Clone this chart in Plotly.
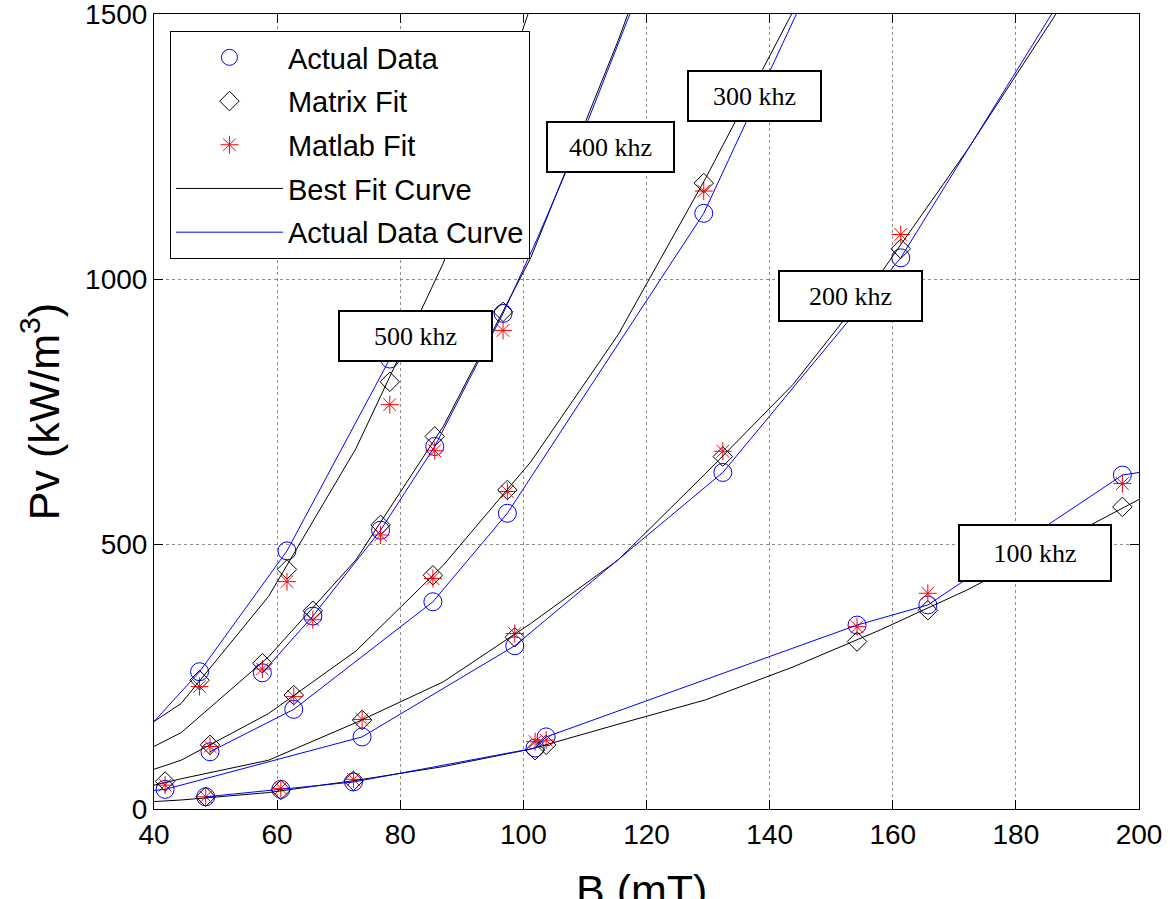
import plotly.graph_objects as go

# ---------------- data ----------------
# measured points for each frequency: B (mT), actual data, matrix fit, matlab fit (kW/m^3)
B100 = [48.4, 60.6, 72.4, 101.9, 103.7, 154.2, 165.7, 197.3]
act100 = [23, 37, 51, 115, 136, 347, 385, 630]
mat100 = [23, 36, 53, 111, 121, 316, 375, 570]
mlb100 = [23, 39, 56, 127, 130, 344, 407, 614]

B200 = [41.8, 73.8, 98.6, 132.4, 161.3]
act200 = [37, 136, 308, 635, 1040]
mat200 = [52, 168, 324, 665, 1057]
mlb200 = [45, 169, 331, 675, 1084]

B300 = [49.1, 62.7, 85.3, 97.4, 129.3]
act300 = [108, 188, 391, 558, 1124]
mat300 = [121, 215, 441, 602, 1181]
mlb300 = [118, 212, 435, 599, 1166]

B400 = [57.6, 65.8, 76.8, 85.6, 96.7]
act400 = [257, 364, 526, 684, 935]
mat400 = [275, 374, 536, 703, 938]
mlb400 = [264, 357, 517, 676, 903]

B500 = [47.4, 61.6, 78.3]
act500 = [259, 487, 849]
mat500 = [243, 452, 806]
mlb500 = [231, 429, 763]

# actual data curves (blue)
cB100 = [48.4, 60.6, 72.4, 101.9, 103.7, 154.2, 165.7, 197.3, 200]
cY100 = [23, 37, 51, 115, 136, 347, 385, 630, 635]
cB200 = [40, 41.8, 73.8, 98.6, 132.4, 161.3, 200]
cY200 = [35, 37, 136, 308, 635, 1040, 1766]
cB300 = [49.1, 62.7, 85.3, 97.4, 129.3, 160]
cY300 = [108, 188, 391, 558, 1124, 1891]
cB400 = [57.6, 65.8, 76.8, 85.6, 96.7, 102.1, 110.5, 117.3, 125]
cY400 = [257, 364, 526, 684, 935, 1072, 1299, 1500, 1740]
cB500 = [40, 47.4, 61.6, 78.3]
cY500 = [165, 259, 487, 849]

# best fit curves (black), sampled on a common B grid
Bfit = [40, 44.4, 58.6, 72.8, 87.0, 101.2, 115.4, 129.6, 143.8, 158.0, 172.2, 186.4, 200]
fit100 = [14, 17, 31, 54, 80, 113, 160, 206, 268, 338, 414, 501, 584]
fit200 = [45, 57, 92, 163, 240, 350, 470, 633, 801, 1010, 1245, 1498, 1760]
fit300 = [75, 92, 180, 298, 460, 655, 895, 1190, 1505, 1850]
fit400 = [118, 144, 287, 470, 722, 1040, 1450, 1900]
fit500 = [165, 199, 401, 680, 1030, 1515, 2100]

freq_labels = ["500 khz", "400 khz", "300 khz", "200 khz", "100 khz"]
label_B = [82.45, 114.2, 137.6, 153.1, 183.1]
label_P = [892, 1249, 1345, 968, 483]
label_w = [155, 129, 135, 145, 154]
label_h = [52, 52, 52, 52, 58]

x_ticks = [40, 60, 80, 100, 120, 140, 160, 180, 200]
y_ticks = [0, 500, 1000, 1500]
x_title = "B (mT)"
y_title = "Pv (kW/m<sup>3</sup>)"


def join(xs_list, ys_list):
    X, Y = [], []
    for xs, ys in zip(xs_list, ys_list):
        n = min(len(xs), len(ys))
        X += list(xs[:n]) + [None]
        Y += list(ys[:n]) + [None]
    return X, Y


Bpts = [B100, B200, B300, B400, B500]
fx, fy = join([Bfit] * 5, [fit100, fit200, fit300, fit400, fit500])
cx, cy = join([cB100, cB200, cB300, cB400, cB500], [cY100, cY200, cY300, cY400, cY500])
ax_, ay_ = join(Bpts, [act100, act200, act300, act400, act500])
mx_, my_ = join(Bpts, [mat100, mat200, mat300, mat400, mat500])
lx_, ly_ = join(Bpts, [mlb100, mlb200, mlb300, mlb400, mlb500])

SANS = "Liberation Sans, Arial, sans-serif"
SERIF = "Liberation Serif, Times New Roman, serif"

fig = go.Figure()
fig.add_trace(go.Scatter(x=ax_, y=ay_, mode="markers", name="Actual Data", legendgroup="a",
                         marker=dict(symbol="circle-open", size=18, color="#0000FF",
                                     line=dict(width=1, color="#0000FF"))))
fig.add_trace(go.Scatter(x=mx_, y=my_, mode="markers", name="Matrix Fit", legendgroup="b",
                         marker=dict(symbol="diamond-open", size=15, color="black",
                                     line=dict(width=1, color="black"))))
fig.add_trace(go.Scatter(x=lx_, y=ly_, mode="markers", name="Matlab Fit", legendgroup="c",
                         marker=dict(symbol="asterisk-open", size=15, color="#FF0000",
                                     line=dict(width=1, color="#FF0000"))))
fig.add_trace(go.Scatter(x=fx, y=fy, mode="lines", name="Best Fit Curve", legendgroup="d",
                         line=dict(color="black", width=1)))
fig.add_trace(go.Scatter(x=cx, y=cy, mode="lines", name="Actual Data Curve", legendgroup="e",
                         line=dict(color="#0000FF", width=1)))

for t, bx, by, w, h in zip(freq_labels, label_B, label_P, label_w, label_h):
    fig.add_annotation(x=bx, y=by, xref="x", yref="y", text=t, showarrow=False,
                       font=dict(family=SERIF, size=26, color="black"),
                       bgcolor="white", bordercolor="black", borderwidth=2, borderpad=0,
                       width=w - 4, height=h - 4, align="center", valign="middle")

# x-axis title placed low, partly cut by the bottom edge as in the reference
fig.add_annotation(x=0.4945, y=-0.0692, xref="paper", yref="paper", xanchor="center",
                   yanchor="top", text=x_title, showarrow=False,
                   font=dict(family=SANS, size=43, color="black"))

axis_common = dict(showline=True, linecolor="black", linewidth=1, mirror="ticks",
                   ticks="inside", ticklen=9, tickcolor="black",
                   showgrid=True, gridcolor="#8c8c8c", griddash="dot", gridwidth=1,
                   zeroline=False, ticklabeloverflow="allow",
                   tickfont=dict(family=SANS, size=28, color="black"))

fig.update_xaxes(range=[40, 200], tickvals=x_ticks, ticktext=[str(v) for v in x_ticks],
                 **axis_common)
fig.update_yaxes(range=[0, 1500], tickvals=y_ticks, ticktext=[str(v) for v in y_ticks],
                 title=dict(text=y_title, font=dict(family=SANS, size=43, color="black"),
                            standoff=12),
                 **axis_common)

fig.update_layout(
    width=1170, height=899,
    margin=dict(l=154, r=31, t=14, b=90, autoexpand=False),
    paper_bgcolor="white", plot_bgcolor="white",
    showlegend=True,
    legend=dict(x=0.0162, y=0.9786, xanchor="left", yanchor="top",
                bgcolor="white", bordercolor="black", borderwidth=1,
                font=dict(family=SANS, size=29, color="black"),
                traceorder="grouped", tracegroupgap=3, itemwidth=107),
)

fig.write_html("out.html", config={"displayModeBar": False},
               post_script="document.body.style.margin='0';document.body.style.padding='0';")
